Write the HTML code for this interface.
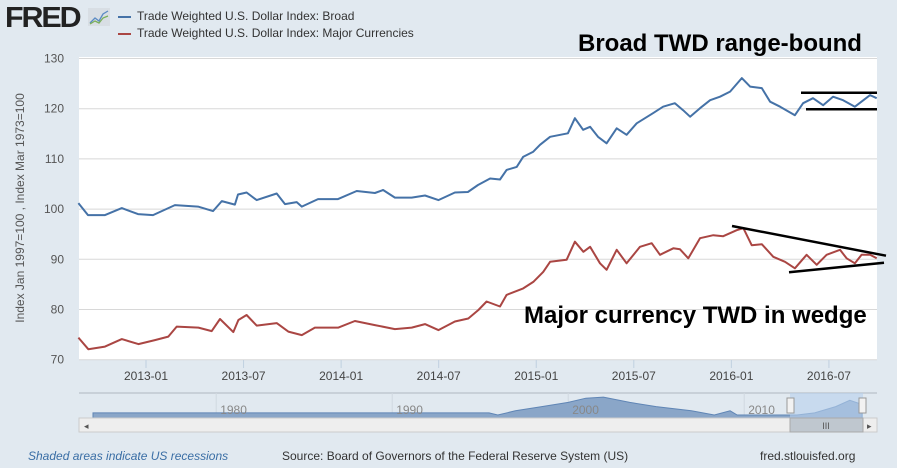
<!DOCTYPE html>
<html><head><meta charset="utf-8"><style>
body{margin:0;width:897px;height:468px;background:#e1e9f0;font-family:"Liberation Sans",sans-serif;overflow:hidden;position:relative}
.t{position:absolute;white-space:nowrap}
</style></head><body>
<div class="t" style="left:5px;top:2px;font-size:29px;font-weight:900;color:#222;letter-spacing:-2px;transform:scaleX(1.05);transform-origin:left">FRED</div>
<svg style="position:absolute;left:88px;top:8px" width="22" height="18"><rect width="22" height="18" fill="#d8dee4"/><polyline points="2,15 7,10 11,13 15,6 20,3" fill="none" stroke="#5b8bc4" stroke-width="1.3"/><polyline points="2,16 7,13 11,15 15,10 20,8" fill="none" stroke="#7ab05a" stroke-width="1.3"/></svg>
<div class="t" style="left:118px;top:9px;font-size:12px;color:#333"><span style="display:inline-block;width:13px;height:2px;background:#4572a7;vertical-align:middle;margin-right:6px"></span>Trade Weighted U.S. Dollar Index: Broad</div>
<div class="t" style="left:118px;top:26px;font-size:12px;color:#333"><span style="display:inline-block;width:13px;height:2px;background:#aa4643;vertical-align:middle;margin-right:6px"></span>Trade Weighted U.S. Dollar Index: Major Currencies</div>
<div class="t" style="left:20px;top:208px;font-size:12px;color:#555;transform:translate(-50%,-50%) rotate(-90deg)">Index Jan 1997=100 , Index Mar 1973=100</div>
<svg id="chart" style="position:absolute;left:0;top:0" width="897" height="468"></svg>
<div class="t" style="left:578px;top:30px;font-size:24px;font-weight:bold;color:#000">Broad TWD range-bound</div>
<div class="t" style="left:524px;top:302px;font-size:24px;font-weight:bold;color:#000">Major currency TWD in wedge</div>
<div class="t" style="left:28px;top:449px;font-size:12px;font-style:italic;color:#3a6ea5">Shaded areas indicate US recessions</div>
<div class="t" style="left:282px;top:449px;font-size:12px;color:#333">Source: Board of Governors of the Federal Reserve System (US)</div>
<div class="t" style="left:760px;top:449px;font-size:12px;color:#333">fred.stlouisfed.org</div>
<script>
// months since 2013-01
const blueMonths=[-4.16,-3.57,-2.52,-1.49,-0.49,0.43,1.78,3.2,4.12,4.66,5.47,5.66,6.19,6.81,8.04,8.55,9.27,9.58,10.58,11.81,12.96,14.08,14.58,15.31,16.34,17.16,17.98,19.0,19.8,20.42,21.16,21.77,22.18,22.8,23.19,23.8,24.23,24.85,25.95,26.38,26.88,27.31,27.8,28.33,28.95,29.56,30.18,31.18,31.8,32.53,33.03,33.46,34.07,34.69,35.3,35.92,36.64,37.15,37.87,38.38,39.0,39.91,40.41,41.02,41.64,42.25,42.87,43.6,44.53,44.94];
const blueValues=[101.2,98.8,98.8,100.2,99.0,98.8,100.8,100.5,99.6,101.6,100.9,102.9,103.3,101.8,103.1,101.0,101.4,100.5,102.0,102.0,103.6,103.2,103.8,102.3,102.3,102.7,101.8,103.3,103.4,104.8,106.1,105.9,107.8,108.4,110.4,111.4,112.8,114.4,115.1,118.1,115.8,116.4,114.4,113.1,116.1,114.8,117.1,119.1,120.4,121.1,119.7,118.4,120.1,121.7,122.4,123.4,126.1,124.4,124.1,121.4,120.4,118.7,121.1,122.1,120.7,122.4,121.7,120.4,122.7,122.1];
const redMonths=[-4.16,-3.55,-2.52,-1.49,-0.47,0.55,1.37,1.89,3.22,4.04,4.55,5.37,5.68,6.19,6.81,8.04,8.75,9.58,10.39,11.83,12.85,14.08,15.31,16.34,17.16,17.98,19.0,19.82,20.44,20.95,21.77,22.18,23.2,23.82,24.43,24.85,25.87,26.38,26.9,27.31,27.92,28.33,28.95,29.56,30.38,31.1,31.61,32.43,32.84,33.35,34.07,34.89,35.5,36.33,36.74,37.25,37.87,38.58,39.3,39.91,40.63,41.25,41.86,42.68,43.09,43.6,44.01,44.53,44.94];
const redValues=[74.4,72.1,72.6,74.1,73.1,73.9,74.6,76.6,76.4,75.7,78.1,75.5,77.9,78.9,76.8,77.3,75.6,74.9,76.4,76.4,77.7,76.9,76.1,76.4,77.1,75.9,77.6,78.2,79.9,81.6,80.6,82.9,84.2,85.5,87.5,89.5,89.9,93.5,91.5,92.5,89.2,87.9,91.9,89.2,92.5,93.2,90.9,92.2,92.0,90.2,94.2,94.8,94.6,95.8,96.2,92.8,93.0,90.5,89.5,88.2,90.9,88.9,90.9,91.9,90.2,89.2,90.9,90.9,90.2];
const yTicks=[70,80,90,100,110,120,130];
const xTickLabels=["2013-01","2013-07","2014-01","2014-07","2015-01","2015-07","2016-01","2016-07"];
const xTickMonths=[0,6,12,18,24,30,36,42];
const navYears=[1973,1985,1995.5,1996,1997,1998.5,2000,2001,2002,2003.5,2005,2007,2008.3,2009.2,2009.6,2011,2013,2014,2015.2,2016,2016.7];
const navValues=[100,100,100,99,101,103,105,107,107.5,105,103,101,97,101,98,98,99,100,103,106,104];
const navLabels=["1980","1990","2000","2010"];
const navLabelYears=[1980,1990,2000,2010];

const svg=document.getElementById('chart');const NS='http://www.w3.org/2000/svg';
function mk(t,a,p){const e=document.createElementNS(NS,t);for(const k in a)e.setAttribute(k,a[k]);(p||svg).appendChild(e);return e;}
const X0=79,X1=877,Y0=57,Y1=360;
const xs=m=>146+m*16.26;
const ys=v=>359.7-(v-70)*5.02;
const plot=mk('rect',{x:X0,y:Y0,width:X1-X0,height:Y1-Y0,fill:'#fff'});


yTicks.forEach(v=>{
 const g=mk('line',{x1:X0,x2:X1,y1:ys(v),y2:ys(v),stroke:'#d8d8d8','stroke-width':1});
 
 
 const t=mk('text',{x:64,y:ys(v)+4,'text-anchor':'end','font-size':12,fill:'#555'});t.textContent=v;
 
 
});
xTickLabels.forEach((l,i)=>{
 const x=xs(xTickMonths[i]);
 const tk=mk('line',{x1:x,x2:x,y1:Y1,y2:Y1+8,stroke:'#c0d0e0'});
 
 
 const t=mk('text',{x:x,y:380,'text-anchor':'middle','font-size':12,fill:'#444'});t.textContent=l;
 
 
});
function series(ms,vs,c,name){
 const p=mk('polyline',{points:ms.map((m,i)=>xs(m).toFixed(1)+','+ys(vs[i]).toFixed(1)).join(' '),fill:'none',stroke:c,'stroke-width':2,'stroke-linejoin':'round'});
 
 
}
series(blueMonths,blueValues,'#4572a7','broad-series-line');
series(redMonths,redValues,'#aa4643','major-series-line');
[[801,92.7,877,92.7],[806,109.3,877,109.3],[732,226,886,255.7],[789,272.3,884,262.7]].forEach(a=>{
 const l=mk('line',{x1:a[0],y1:a[1],x2:a[2],y2:a[3],stroke:'#000','stroke-width':2.5});
 
 
});
// navigator
const nx=y=>93+(y-1973)*(863-93)/(2016.75-1973);
const ny=v=>415-(v-99)*2.1;
const nb=mk('line',{x1:X0,x2:X1,y1:393,y2:393,stroke:'#b0b8c0'});


navLabelYears.forEach((y,i)=>{
 const g=mk('line',{x1:nx(y),x2:nx(y),y1:393,y2:418,stroke:'#d0d8e0'});
 
 
});
const pts=navYears.map((y,i)=>nx(y).toFixed(1)+','+Math.min(415,ny(navValues[i])).toFixed(1));
const area=mk('polygon',{points:nx(navYears[0])+',418 '+pts.join(' ')+' '+nx(navYears[navYears.length-1])+',418',fill:'#8aa6c8',stroke:'#5f85b5','stroke-width':1});


navLabelYears.forEach((y,i)=>{
 const t=mk('text',{x:nx(y)+4,y:414,'font-size':12,fill:'#888'});t.textContent=navLabels[i];
 
 
});
const sel=mk('rect',{x:790,y:393,width:73,height:25,fill:'#b8d0ec','fill-opacity':0.6});


[790,862].forEach(x=>{
 const h=mk('rect',{x:x-3,y:398,width:7,height:15,fill:'#f2f2f2',stroke:'#999'});
 
 
});
const sb=mk('rect',{x:X0,y:418,width:X1-X0,height:14,fill:'#eee',stroke:'#ccc'});


const th=mk('rect',{x:790,y:418,width:73,height:14,fill:'#bfc7cf',stroke:'#aaa'});


const bl=mk('text',{x:84,y:429,'font-size':9,fill:'#555'});bl.textContent='◂';


const br=mk('text',{x:867,y:429,'font-size':9,fill:'#555'});br.textContent='▸';


const gr=mk('text',{x:826,y:429,'font-size':9,fill:'#555','text-anchor':'middle'});gr.textContent='III';


</script>
</body></html>
